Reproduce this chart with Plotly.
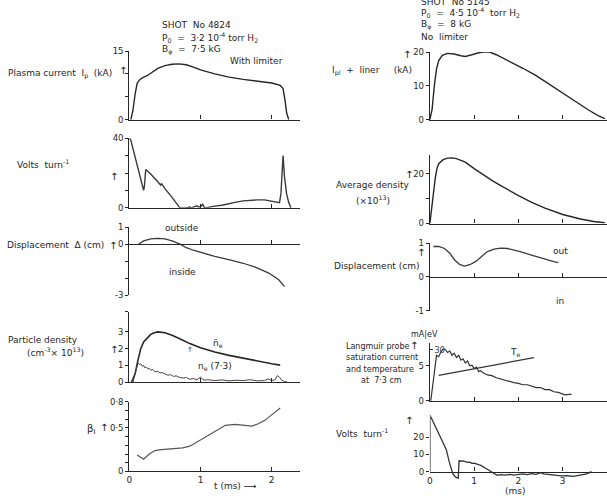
import plotly.graph_objects as go

W, H = 607, 496

# ---------------- data ----------------
# Left column: shot 4824, with limiter
ip_t = [0.02, 0.05, 0.08, 0.11, 0.15, 0.2, 0.25, 0.3, 0.4, 0.5, 0.6, 0.7, 0.8, 0.9, 1.0, 1.2, 1.4, 1.6, 1.8, 2.0, 2.12, 2.16, 2.19, 2.21, 2.24]
ip_v = [0, 2, 5.5, 8, 8.8, 9.3, 9.6, 10.2, 11.2, 11.8, 12.1, 12.2, 12.0, 11.5, 10.9, 10.0, 9.3, 8.8, 8.4, 8.0, 7.5, 6.8, 4, 1.5, 0]

vl_t = [0.0, 0.02, 0.2, 0.21, 0.23, 0.3, 0.4, 0.44, 0.45, 0.47, 0.5, 0.6, 0.71, 0.8, 0.85, 0.87, 0.9, 0.95, 0.97, 1.0, 1.03, 1.05, 1.07,
        1.1, 1.2, 1.3, 1.4, 1.5, 1.6, 1.7, 1.8, 1.9, 2.0, 2.08, 2.11, 2.13, 2.15, 2.16, 2.18, 2.21, 2.24, 2.27]
vl_v = [40, 39, 10, 12, 22, 19.5, 15, 13, 14, 12.5, 11, 6, 0, 0, 0.5, 0, 0.3, 1.2, 0.5, 0.6, 2, 0.4, 0,
        0.3, 1, 1.5, 2.5, 3.3, 4, 4.4, 4.6, 4.6, 4, 3.5, 3, 8, 22, 30, 18, 8, 3, 0]

dl_t = [0.13, 0.2, 0.3, 0.4, 0.5, 0.6, 0.72, 0.8, 0.9, 1.02, 1.2, 1.44, 1.6, 1.77, 1.96, 2.1, 2.18]
dl_v = [0.0, 0.2, 0.32, 0.35, 0.32, 0.2, 0.0, -0.2, -0.35, -0.5, -0.72, -0.95, -1.12, -1.35, -1.7, -2.1, -2.5]

nbar_t = [0.03, 0.08, 0.12, 0.16, 0.2, 0.25, 0.3, 0.35, 0.4, 0.5, 0.6, 0.7, 0.85, 1.0, 1.2, 1.4, 1.6, 1.8, 2.0, 2.12]
nbar_v = [0, 0.5, 1.3, 2.0, 2.4, 2.65, 2.85, 2.95, 3.0, 2.95, 2.8, 2.6, 2.3, 2.05, 1.8, 1.6, 1.42, 1.25, 1.1, 1.02]

ne73_t = [0.05, 0.1, 0.12, 0.14, 0.16, 0.18, 0.2, 0.22, 0.24, 0.26, 0.28, 0.3, 0.33, 0.36, 0.4, 0.43, 0.46, 0.5, 0.54, 0.58, 0.62, 0.66,
          0.7, 0.75, 0.8, 0.85, 0.9, 0.95, 1.0, 1.05, 1.1, 1.2, 1.3, 1.4, 1.5, 1.6, 1.7, 1.8, 1.9, 1.95, 2.0, 2.05, 2.08, 2.11, 2.14, 2.18, 2.22]
ne73_v = [0, 0.8, 1.15, 1.05, 1.1, 0.95, 1.0, 0.85, 0.9, 0.8, 0.82, 0.72, 0.75, 0.62, 0.65, 0.55, 0.58, 0.5, 0.42, 0.45, 0.35, 0.38,
          0.3, 0.25, 0.28, 0.18, 0.22, 0.15, 0.3, 0.12, 0.15, 0.1, 0.14, 0.08, 0.12, 0.1, 0.15, 0.08, 0.1, 0.2, 0.1, 0.15, 0.4, 0.3, 0.12, 0.05, 0]

beta_t = [0.11, 0.15, 0.2, 0.28, 0.36, 0.45, 0.55, 0.64, 0.75, 0.85, 0.97, 1.1, 1.22, 1.35, 1.49, 1.6, 1.72, 1.82, 1.91, 2.0, 2.12]
beta_v = [0.19, 0.17, 0.14, 0.2, 0.24, 0.25, 0.255, 0.26, 0.27, 0.29, 0.35, 0.41, 0.47, 0.53, 0.54, 0.53, 0.52, 0.55, 0.59, 0.65, 0.73]

# Right column: no limiter
ipr_t = [0, 0.05, 0.1, 0.15, 0.2, 0.28, 0.4, 0.55, 0.7, 0.8, 0.95, 1.1, 1.25, 1.35, 1.5, 1.8, 2.1, 2.4, 2.7, 3.0, 3.3, 3.6, 3.8, 3.95]
ipr_v = [0, 3, 10, 15, 17.5, 19.0, 19.6, 19.4, 18.9, 18.7, 19.2, 19.8, 20.1, 20.0, 19.2, 17.3, 15.2, 13.0, 10.4, 7.8, 5.2, 2.7, 1.2, 0.3]

nav_t = [0, 0.04, 0.08, 0.12, 0.16, 0.2, 0.3, 0.4, 0.5, 0.6, 0.8, 1.0, 1.2, 1.4, 1.6, 1.8, 2.0, 2.3, 2.6, 3.0, 3.4, 3.7, 3.95]
nav_v = [0, 5, 12, 18, 22, 24, 25.6, 26.2, 26.3, 26.0, 24.6, 22.0, 19.6, 17.3, 15.2, 13.1, 11.2, 8.5, 6.2, 3.6, 1.8, 0.8, 0.3]

dr_t = [0.08, 0.2, 0.33, 0.45, 0.56, 0.67, 0.78, 0.9, 1.0, 1.08, 1.2, 1.3, 1.45, 1.6, 1.75, 1.9, 2.04, 2.2, 2.35, 2.49, 2.65, 2.8, 2.9]
dr_v = [0.9, 0.9, 0.84, 0.7, 0.5, 0.37, 0.32, 0.36, 0.43, 0.5, 0.64, 0.75, 0.82, 0.85, 0.84, 0.8, 0.75, 0.68, 0.62, 0.56, 0.5, 0.45, 0.42]

isat_t = [0.02, 0.05, 0.06, 0.1, 0.12, 0.15, 0.2, 0.25, 0.3, 0.35, 0.4, 0.45, 0.5, 0.55, 0.6, 0.65, 0.7, 0.75, 0.8, 0.85, 0.9, 0.95,
          1.0, 1.05, 1.1, 1.15, 1.2, 1.3, 1.4, 1.5, 1.6, 1.7, 1.8, 1.9, 2.0, 2.1, 2.2, 2.3, 2.4, 2.5, 2.6, 2.7, 2.8, 2.9, 3.0, 3.05, 3.1, 3.2]
isat_v = [0, 1.8, 1.5, 4.8, 5.0, 6.5, 6.3, 7.0, 7.4, 7.3, 6.9, 7.1, 6.5, 6.8, 6.2, 6.5, 5.8, 6.0, 5.4, 5.7, 5.0, 5.1,
          4.6, 4.8, 4.2, 4.3, 4.0, 3.7, 3.6, 3.3, 3.1, 3.0, 2.7, 2.6, 2.5, 2.3, 2.3, 2.1, 1.9, 1.9, 1.6, 1.6, 1.3, 1.2, 1.0, 0.85, 0.9, 0.95]

te_t = [0.2, 2.35]
te_v = [15, 25.5]

vr_t = [0.02, 0.1, 0.21, 0.3, 0.37, 0.44, 0.52, 0.58, 0.64, 0.66, 0.7, 0.75, 0.8, 0.85, 0.9, 0.95, 1.0, 1.07, 1.15, 1.22, 1.3, 1.37,
        1.45, 1.52, 1.6, 1.7, 1.8, 1.9, 1.97, 2.1, 2.2, 2.3, 2.4, 2.5, 2.57, 2.65, 2.75, 2.87, 3.0, 3.1, 3.24, 3.35, 3.45, 3.54, 3.65]
vr_v = [31.7, 27.7, 21.5, 16.6, 12.8, 5.3, -1.3, -3.2, -3.8, 6.3, 6.0, 6.2, 5.6, 5.3, 5.5, 4.8, 4.9, 4.4, 3.6, 2.5, 1.2, 0,
        -1.2, -2.2, -1.8, -2.1, -1.6, -2.0, -1.8, -1.3, -1.7, -1.2, -1.6, -0.6, -1.3, -1.6, -2.0, -2.2, -2.5, -2.4, -2.8, -2.4, -2.0, -1.3, 0]

# tick labels
lx_ticks = [0, 1, 2]
rx_ticks = [0, 1, 2, 3, 4]

# ---------------- layout geometry (pixels) ----------------
INK = "#262626"
FONT = "DejaVu Sans"
TS = 9  # text size
LX = (127, 298.6, [0, 2.4])
RX = (429, 607, [0, 4.0])

# (column, yrange, top_px, bottom_px, ytickvals, yticktext, x-axis at zero, show x labels)
panels = [
    ("L", [0, 15], 47, 117, [0, 5, 10, 15], ["0", "", "", "15"], False, False),
    ("L", [0, 40], 136, 207, [0, 10, 20, 30, 40], ["0", "", "", "", "40"], False, False),
    ("L", [-3, 1], 227, 296, [-3, -2, -1, 0, 1], ["-3", "", "", "0", "1"], True, False),
    ("L", [0, 4.2], 313, 385, [0, 1, 2, 3, 4.2], ["0", "1", "2", "3", ""], False, False),
    ("L", [0, 0.8], 405, 476, [0, 0.1, 0.2, 0.3, 0.4, 0.5, 0.6, 0.7, 0.8],
     ["0", "", "", "", "", "0·5", "", "", "0·8"], False, True),
    ("R", [0, 20], 48, 117, [0, 10, 20], ["0", "10", "20"], False, False),
    ("R", [0, 27.5], 153, 223, [0, 10, 20], ["0", "", "20"], False, False),
    ("R", [-1, 1], 243, 312, [-1, 0, 1], ["-1", "0", "1"], True, False),
    ("R", [0, 8.25], 345, 404, [0, 5], ["0", "5"], False, False),
    ("R", [-5, 33], 418, 485, [0, 10, 20], ["0", "10", "20"], True, True),
]

fig = go.Figure()
layout = dict(
    width=W, height=H, margin=dict(l=0, r=0, t=0, b=0),
    paper_bgcolor="white", plot_bgcolor="white", showlegend=False,
    font=dict(family=FONT, size=TS, color=INK),
)

for i, (col, yr, ytop, ybot, tv, tt, xzero, xlab) in enumerate(panels, start=1):
    x0, x1, xr = LX if col == "L" else RX
    ydom = [1 - ybot / H, 1 - ytop / H]
    sfx = "" if i == 1 else str(i)
    xa = dict(domain=[x0 / W, min(x1 / W, 1.0)], range=xr, showgrid=False, zeroline=False,
              showline=True, linecolor=INK, linewidth=1.3, ticks="inside", ticklen=4,
              tickcolor=INK, tickwidth=1.1,
              tickvals=lx_ticks if col == "L" else rx_ticks,
              showticklabels=xlab, tickfont=dict(size=9), anchor="y" + sfx)
    if xzero:
        pos = ydom[0] + (0 - yr[0]) / (yr[1] - yr[0]) * (ydom[1] - ydom[0])
        xa.update(anchor="free", position=pos)
    ya = dict(domain=ydom, range=yr, showgrid=False, zeroline=False,
              showline=(i != 10), linecolor=INK, linewidth=1.3, ticks="outside", ticklen=3,
              tickcolor=INK, tickwidth=1.1, tickvals=tv, ticktext=tt,
              tickfont=dict(size=8.5), anchor="x" + sfx)
    layout["xaxis" + sfx] = xa
    layout["yaxis" + sfx] = ya

# secondary eV axis for the Langmuir panel
layout["yaxis11"] = dict(overlaying="y9", anchor="x9", side="left", range=[0, 34.1],
                         showgrid=False, zeroline=False, showline=False, ticks="inside",
                         ticklen=3, tickcolor=INK, tickvals=[30], ticktext=["30"],
                         ticklabelposition="inside", tickfont=dict(size=8.5))


def line(x, y, i, color=INK, width=1.4, yaxis=None):
    sfx = "" if i == 1 else str(i)
    fig.add_trace(go.Scatter(x=x, y=y, mode="lines", xaxis="x" + sfx,
                             yaxis=yaxis or ("y" + sfx),
                             line=dict(color=color, width=width), hoverinfo="skip"))


line(ip_t, ip_v, 1)
line(vl_t, vl_v, 2, color="#3a3a3a", width=1.4)
line(dl_t, dl_v, 3, color="#3a3a3a", width=1.3)
line(nbar_t, nbar_v, 4, width=1.6)
line(ne73_t, ne73_v, 4, color="#444", width=1.0)
line(beta_t, beta_v, 5, color="#555", width=1.2)
line(ipr_t, ipr_v, 6)
line(nav_t, nav_v, 7)
line(dr_t, dr_v, 8, color="#3a3a3a", width=1.3)
line(isat_t, isat_v, 9, color="#333", width=1.2)
line(te_t, te_v, 9, color="#333", width=1.2, yaxis="y11")
line(vr_t, vr_v, 10, color="#333", width=1.3)

# y axis line of the last right panel only spans from 0 upward
shapes = [dict(type="line", xref="x10", yref="y10", x0=0, x1=0, y0=0, y1=33,
               line=dict(color=INK, width=1.3))]
layout["shapes"] = shapes

# ---------------- text ----------------
ann = []


def txt(s, x, y, xa="left", size=TS):
    ann.append(dict(text=s, x=x / W, y=1 - y / H, xref="paper", yref="paper",
                    xanchor=xa, yanchor="middle", showarrow=False,
                    font=dict(size=size, color=INK, family=FONT)))


# left header
txt("SHOT  No 4824", 158, 20)
txt("P<sub>0</sub>  =  3·2 10<sup>-4</sup> torr H<sub>2</sub>", 158, 33)
txt("B<sub>φ</sub>  =  7·5 kG", 158, 46)
txt("With limiter", 226, 57)
txt("Plasma current  I<sub>p</sub>  (kA)", 3, 70)
txt("↑", 121, 67, "center", 10)
txt("Volts  turn<sup>-1</sup>", 12, 162)
txt("↑", 112, 175, "center", 10)
txt("Displacement  Δ (cm)", 2, 245)
txt("↑", 111, 245, "center", 10)
txt("outside", 180, 228, "center")
txt("inside", 180, 273, "center")
txt("Particle density", 3, 342)
txt("(cm<sup>-3</sup>× 10<sup>13</sup>)", 22, 354)
txt("↑", 112, 352, "center", 10)
txt("n̄<sub>e</sub>", 216, 345, "center")
txt("n<sub>e</sub> (7·3)", 213, 369, "center")
txt("↑", 188, 352, "center", 7)
txt("β<sub>I</sub>", 88, 433, "center", 10)
txt("↑", 101, 431, "center", 10)
txt("t (ms) ⟶", 234, 491, "center", 9)

# right header
txt("SHOT  No 5145", 418, -3)
txt("P<sub>0</sub>  =  4·5 10<sup>-4</sup>  torr H<sub>2</sub>", 418, 8)
txt("B<sub>φ</sub>  =  8 kG", 418, 20)
txt("No  limiter", 418, 33)
txt("I<sub>pl</sub>  +  liner     (kA)", 329, 67)
txt("↑", 406, 51, "center", 10)
txt("Average density", 333, 184)
txt("(×10<sup>13</sup>)", 353, 199)
txt("↑", 408, 173, "center", 10)
txt("Displacement (cm)", 331, 266)
txt("↑", 420, 253, "center", 10)
txt("out", 560, 251, "center")
txt("in", 560, 302, "center")
txt("Langmuir probe", 343, 349, size=8)
txt("saturation current", 343, 360, size=8)
txt("and temperature", 343, 372, size=8)
txt("at  7·3 cm", 358, 383, size=8)
txt("↑", 413, 348, "center", 10)
txt("mA|eV", 424, 336, "center", 8)
txt("T<sub>e</sub>", 515, 355, "center")
txt("Volts  turn<sup>-1</sup>", 333, 437)
txt("↑", 408, 424, "center", 10)
txt("(ms)", 515, 496, "center")

layout["annotations"] = ann
fig.update_layout(**layout)
fig.write_html("out.html")
